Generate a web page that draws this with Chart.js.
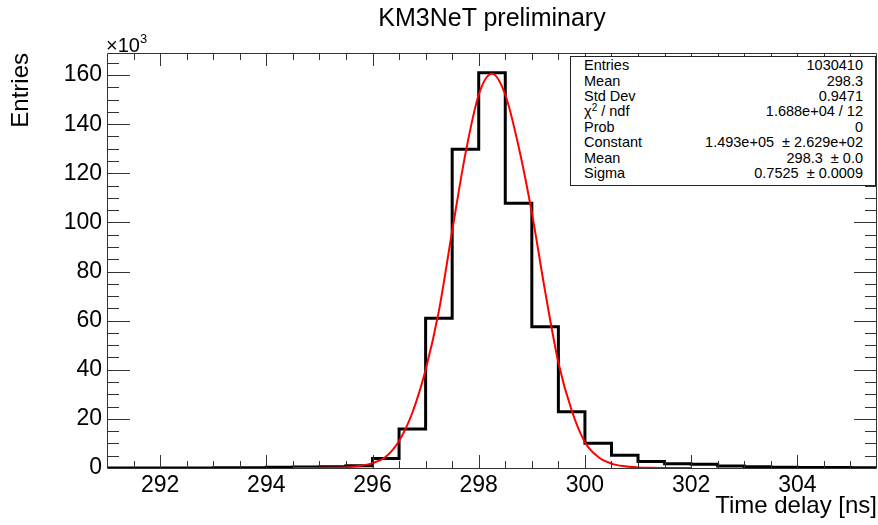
<!DOCTYPE html>
<html>
<head>
<meta charset="utf-8">
<title>KM3NeT preliminary</title>
<script src="https://cdn.jsdelivr.net/npm/chart.js@4.4.1/dist/chart.umd.min.js"></script>
<style>
  body { margin: 0; background: #fff; }
  #wrap {
    position: relative; width: 878px; height: 525px; overflow: hidden;
    font-family: "Liberation Sans", Arial, sans-serif; color: #000;
  }
  #plot { position: absolute; left: 0; top: 0; }
  #title {
    position: absolute; left: 107px; width: 770px; top: 5px;
    text-align: center; font-size: 25px; line-height: 25px;
  }
  #mult { position: absolute; left: 106px; top: 34.5px; font-size: 20px; line-height: 20px; }
  #mult .exp { font-size: 13px; position: relative; top: -9px; }
  #stats {
    position: absolute; left: 570px; top: 56px; width: 304px; height: 128px;
    border: 1px solid #222; background: #fff; font-size: 14.5px;
  }
  #stats .row { position: absolute; left: 13px; right: 12px; height: 15.4px; line-height: 15.4px; white-space: pre; }
  #stats .row .v { position: absolute; right: 0; top: 0; }
  #stats .sq { font-size: 10px; position: relative; top: -5px; }
</style>
</head>
<body>
<div id="wrap">
  <canvas id="plot" width="878" height="525"></canvas>
  <div id="title">KM3NeT preliminary</div>
  <div id="mult">×10<span class="exp">3</span></div>
  <div id="stats"></div>
</div>
<script>
  // ---------- Data (entries in units of 10^3) ----------
  const binEdges = [291, 291.5, 292, 292.5, 293, 293.5, 294, 294.5, 295, 295.5,
                    296, 296.5, 297, 297.5, 298, 298.5, 299, 299.5, 300, 300.5,
                    301, 301.5, 302, 302.5, 303, 303.5, 304, 304.5, 305, 305.5];
  const binCounts = [0.05, 0.05, 0.05, 0.05, 0.06, 0.08, 0.35, 0.4, 0.55, 0.9,
                     3.9, 15.9, 61.0, 129.8, 161.0, 107.8, 57.5, 22.9, 10.1, 5.2,
                     2.6, 1.7, 1.5, 0.8, 0.5, 0.35, 0.25, 0.2, 0.15];

  // gaussian fit curve
  const fitX = [294.5, 294.75, 295, 295.25, 295.5, 295.75, 296, 296.25, 296.5, 296.75,
                297, 297.25, 297.5, 297.75, 298, 298.25, 298.5, 298.75, 299, 299.25,
                299.5, 299.75, 300, 300.25, 300.5, 300.75, 301, 301.25, 301.5, 301.75, 302];
  const fitY = [0.01, 0.02, 0.05, 0.1, 0.3, 0.8, 2.0, 4.6, 11, 22.5,
                40, 64, 96.5, 128, 152, 160.5, 152, 131, 104, 72,
                43, 23.5, 10.5, 4.5, 1.8, 0.7, 0.25, 0.08, 0.03, 0.01, 0];

  const xTickValues = [292, 294, 296, 298, 300, 302, 304];
  const yTickValues = [0, 20, 40, 60, 80, 100, 120, 140, 160];
  const X_MIN = 291, X_MAX = 305.5;
  const Y_MIN = 0, Y_MAX = 169;

  const statLabels = ["Entries", "Mean", "Std Dev", "χ<span class=\"sq\">2</span> / ndf",
                      "Prob", "Constant", "Mean", "Sigma"];
  const statValues = ["1030410", "298.3", "0.9471", "1.688e+04 / 12", "0",
                      "1.493e+05  ± 2.629e+02", "298.3  ± 0.0", "0.7525  ± 0.0009"];

  // ---------- Stats box ----------
  const statsBox = document.getElementById("stats");
  statLabels.forEach((lab, i) => {
    const row = document.createElement("div");
    row.className = "row";
    row.style.top = (1.15 + i * 15.4) + "px";
    row.innerHTML = lab + '<span class="v">' + statValues[i] + "</span>";
    statsBox.appendChild(row);
  });

  // ---------- Frame + inward ticks (ROOT style) ----------
  const frameTicks = {
    id: "frameTicks",
    afterDatasetsDraw(chart) {
      const { ctx, chartArea: a, scales: { x, y } } = chart;
      ctx.save();
      ctx.strokeStyle = "#333";
      ctx.lineWidth = 1;
      ctx.beginPath();
      ctx.rect(a.left + 0.5, a.top + 0.5, a.right - a.left - 1, a.bottom - a.top);

      const xStep = (xTickValues[1] - xTickValues[0]) / 4;
      let v = xTickValues[0] - xStep * Math.floor((xTickValues[0] - X_MIN) / xStep);
      for (; v <= X_MAX; v += xStep) {
        const major = xTickValues.includes(+v.toFixed(3));
        const len = major ? 13 : 7;
        const px = Math.round(x.getPixelForValue(v)) + 0.5;
        if (px <= a.left + 1 || px >= a.right - 1) continue;
        ctx.moveTo(px, a.bottom); ctx.lineTo(px, a.bottom - len);
        ctx.moveTo(px, a.top); ctx.lineTo(px, a.top + len);
      }
      const yStep = (yTickValues[1] - yTickValues[0]) / 4;
      for (let w = yTickValues[0]; w <= Y_MAX; w += yStep) {
        const major = yTickValues.includes(w);
        const len = major ? 23 : 12;
        const py = Math.round(y.getPixelForValue(w)) + 0.5;
        if (py <= a.top + 1 || py >= a.bottom) continue;
        ctx.moveTo(a.left, py); ctx.lineTo(a.left + len, py);
        ctx.moveTo(a.right, py); ctx.lineTo(a.right - len, py);
      }
      ctx.stroke();
      ctx.restore();
    }
  };

  // ---------- Chart ----------
  const histData = binEdges.map((e, i) => ({ x: e, y: binCounts[Math.min(i, binCounts.length - 1)] }));
  const fitData = fitX.map((e, i) => ({ x: e, y: fitY[i] }));

  new Chart(document.getElementById("plot").getContext("2d"), {
    type: "line",
    data: {
      datasets: [
        {
          label: "fit",
          data: fitData,
          borderColor: "#ff0000",
          borderWidth: 2,
          pointRadius: 0,
          fill: false,
          cubicInterpolationMode: "monotone"
        },
        {
          label: "Time delay",
          data: histData,
          borderColor: "#000",
          borderWidth: 3,
          pointRadius: 0,
          fill: false,
          stepped: "before"
        }
      ]
    },
    options: {
      responsive: false,
      animation: false,
      devicePixelRatio: 1,
      layout: { padding: { top: 53, right: 1, left: 0, bottom: 0 } },
      plugins: { legend: { display: false }, tooltip: { enabled: false }, title: { display: false } },
      scales: {
        x: {
          type: "linear",
          min: X_MIN,
          max: X_MAX,
          grid: { display: false, drawTicks: false },
          border: { display: false },
          ticks: {
            color: "#000",
            padding: 4,
            maxRotation: 0,
            font: { family: "'Liberation Sans', Arial, sans-serif", size: 23 }
          },
          title: {
            display: true,
            text: "Time delay [ns]",
            align: "end",
            color: "#000",
            padding: { top: 0, bottom: 4.6 },
            font: { family: "'Liberation Sans', Arial, sans-serif", size: 24 }
          },
          afterBuildTicks(scale) { scale.ticks = xTickValues.map(v => ({ value: v })); },
          afterFit(scale) { scale.height = 57; }
        },
        y: {
          type: "linear",
          min: Y_MIN,
          max: Y_MAX,
          grid: { display: false, drawTicks: false },
          border: { display: false },
          ticks: {
            color: "#000",
            padding: 5,
            font: { family: "'Liberation Sans', Arial, sans-serif", size: 23 }
          },
          title: {
            display: true,
            text: "Entries",
            align: "end",
            color: "#000",
            padding: { top: 6.6, bottom: 0 },
            font: { family: "'Liberation Sans', Arial, sans-serif", size: 24 }
          },
          afterBuildTicks(scale) { scale.ticks = yTickValues.map(v => ({ value: v })); },
          afterFit(scale) { scale.width = 107; }
        }
      }
    },
    plugins: [frameTicks]
  });
</script>
</body>
</html>
